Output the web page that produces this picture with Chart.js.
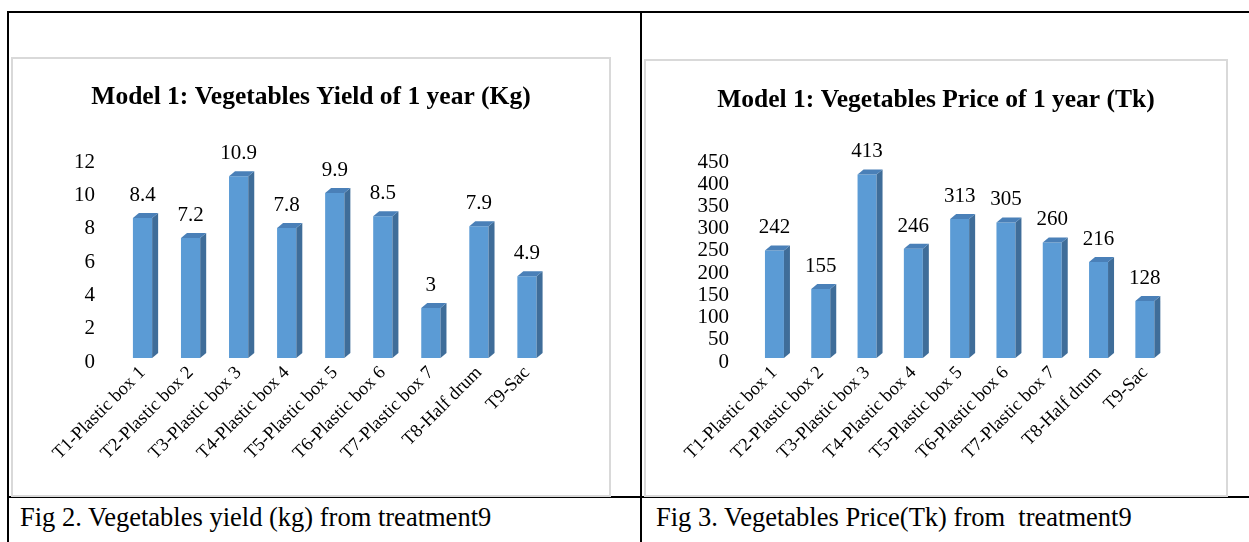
<!DOCTYPE html>
<html>
<head>
<meta charset="utf-8">
<script src="https://cdn.jsdelivr.net/npm/chart.js@4.4.0/dist/chart.umd.min.js"></script>
<style>
  body { margin: 0; width: 1249px; height: 542px; background: #fff; position: relative; overflow: hidden; font-family: "Liberation Serif", "Times New Roman", serif; }
  .line { position: absolute; background: #000; }
  .box { position: absolute; border: 2px solid #d9d9d9; box-sizing: border-box; }
  canvas { position: absolute; }
  .caption { position: absolute; font-size: 26.5px; color: #000; white-space: pre; line-height: 30px; }
</style>
</head>
<body>
<!-- table borders -->
<div class="line" style="left:7px;top:11px;width:1242px;height:2px"></div>
<div class="line" style="left:7px;top:11px;width:2px;height:531px"></div>
<div class="line" style="left:640px;top:11px;width:2px;height:531px"></div>
<div class="line" style="left:7px;top:496px;width:1242px;height:2px"></div>

<!-- chart frames -->
<div class="box" style="left:11px;top:57px;width:600px;height:440px"></div>
<div class="box" style="left:644px;top:59px;width:584px;height:438px"></div>

<canvas id="yieldChart" width="596" height="436" style="left:13px;top:59px"></canvas>
<canvas id="priceChart" width="580" height="434" style="left:646px;top:61px"></canvas>

<div class="caption" style="left:20px;top:502px">Fig 2. Vegetables yield (kg) from treatment9</div>
<div class="caption" style="left:656px;top:502px">Fig 3. Vegetables Price(Tk) from  treatment9</div>

<script>
const categories = ['T1-Plastic box 1', 'T2-Plastic box 2', 'T3-Plastic box 3', 'T4-Plastic box 4',
  'T5-Plastic box 5', 'T6-Plastic box 6', 'T7-Plastic box 7', 'T8-Half drum', 'T9-Sac'];
const yieldKg = [8.4, 7.2, 10.9, 7.8, 9.9, 8.5, 3, 7.9, 4.9];
const priceTk = [242, 155, 413, 246, 313, 305, 260, 216, 128];
const yieldTicks = [0, 2, 4, 6, 8, 10, 12];
const priceTicks = [0, 50, 100, 150, 200, 250, 300, 350, 400, 450];

const serif = '"Liberation Serif", "Times New Roman", serif';

// draws the side and top faces of each bar plus the value above it
const bar3d = {
  id: 'bar3d',
  afterDatasetsDraw(chart) {
    const ctx = chart.ctx;
    const meta = chart.getDatasetMeta(0);
    const values = chart.data.datasets[0].data;
    const dx = 6, dy = 5;
    ctx.save();
    meta.data.forEach((bar, i) => {
      const p = bar.getProps(['x', 'y', 'base', 'width'], true);
      const l = p.x - p.width / 2;
      const r = p.x + p.width / 2;
      ctx.fillStyle = '#3f6d99';
      ctx.beginPath();
      ctx.moveTo(r, p.y);
      ctx.lineTo(r + dx, p.y - dy);
      ctx.lineTo(r + dx, p.base - dy);
      ctx.lineTo(r, p.base);
      ctx.closePath();
      ctx.fill();
      ctx.fillStyle = '#4a80b8';
      ctx.beginPath();
      ctx.moveTo(l, p.y);
      ctx.lineTo(l + dx, p.y - dy);
      ctx.lineTo(r + dx, p.y - dy);
      ctx.lineTo(r, p.y);
      ctx.closePath();
      ctx.fill();
      ctx.fillStyle = '#000';
      ctx.font = '21px ' + serif;
      ctx.textAlign = 'center';
      ctx.textBaseline = 'alphabetic';
      ctx.fillText(String(values[i]), p.x, p.y - 17);
    });
    ctx.restore();
  }
};

function makeChart(id, title, values, ticks, area, barPct) {
  const ctx = document.getElementById(id).getContext('2d');
  return new Chart(ctx, {
    type: 'bar',
    data: {
      labels: categories,
      datasets: [{
        data: values,
        backgroundColor: '#5b9bd5',
        barPercentage: barPct,
        categoryPercentage: 1
      }]
    },
    options: {
      responsive: false,
      animation: false,
      layout: { padding: 0 },
      plugins: {
        legend: { display: false },
        tooltip: { enabled: false },
        title: {
          display: true,
          text: title,
          color: '#000',
          font: { family: serif, size: 25.5, weight: 'bold' },
          padding: { top: area.titleTop, bottom: area.titleBottom }
        }
      },
      scales: {
        x: {
          grid: { display: false, drawTicks: false },
          border: { display: false },
          ticks: {
            color: '#000',
            font: { family: serif, size: 18.5 },
            maxRotation: 45,
            minRotation: 45,
            autoSkip: false,
            padding: 4
          },
          afterFit(scale) { scale.height = area.xHeight; }
        },
        y: {
          min: ticks[0],
          max: ticks[ticks.length - 1],
          grid: { display: false, drawTicks: false },
          border: { display: false },
          ticks: {
            stepSize: ticks[1] - ticks[0],
            autoSkip: false,
            color: '#000',
            font: { family: serif, size: 21 },
            padding: area.yPad,
            labelOffset: 4
          },
          afterFit(scale) { scale.width = area.left; }
        },
        // empty axis on the right, only keeps the blank margin so the title stays centred
        gap: {
          type: 'linear',
          position: 'right',
          grid: { display: false, drawTicks: false },
          border: { display: false },
          ticks: { display: false },
          afterFit(scale) { scale.width = area.right; }
        }
      }
    },
    plugins: [bar3d]
  });
}

makeChart('yieldChart', 'Model 1: Vegetables Yield of 1 year (Kg)', yieldKg, yieldTicks,
  { left: 105.5, right: 58, titleTop: 23, titleBottom: 45.4, xHeight: 137, yPad: 23.5 }, 0.4);
makeChart('priceChart', 'Model 1: Vegetables Price of 1 year (Tk)', priceTk, priceTicks,
  { left: 105.3, right: 58, titleTop: 24, titleBottom: 42.4, xHeight: 137, yPad: 22.3 }, 0.41);
</script>
</body>
</html>
